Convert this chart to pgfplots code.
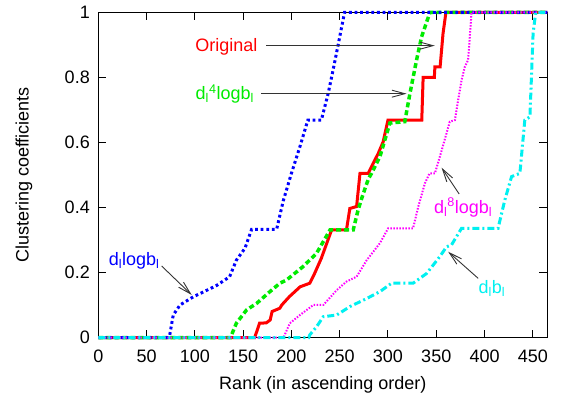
\documentclass[border=0pt]{standalone}
\usepackage{fontspec}
\setmainfont{Liberation Sans}
\usepackage{pgfplots}
\pgfplotsset{compat=1.18}
\usetikzlibrary{arrows.meta}
\definecolor{cR}{RGB}{255,0,0}
\definecolor{cG}{RGB}{0,235,0}
\definecolor{cB}{RGB}{0,0,255}
\definecolor{cM}{RGB}{255,0,255}
\definecolor{cC}{RGB}{0,240,240}
\begin{document}
\begin{tikzpicture}[font=\fontsize{18}{21}\selectfont]
\begin{axis}[
  scale only axis, width=449pt, height=325pt,
  xmin=0, xmax=465, ymin=0, ymax=1,
  xtick={0,50,...,450}, ytick={0,0.2,...,1},
  yticklabels={0,0.2,0.4,0.6,0.8,1},
  /pgf/number format/assume math mode=true,
  tick align=inside, major tick length=8pt,
  axis line style={line width=1.2pt},
  every tick/.style={line width=1pt, black},
  xticklabel style={yshift=-9pt},
  yticklabel style={xshift=-5pt},
  xlabel={Rank (in ascending order)},
  ylabel={Clustering coefficients},
  xlabel style={at={(axis description cs:0.5,-0.1615)}, anchor=base},
  ylabel style={at={(axis description cs:-0.155,0.5)}, anchor=base, rotate=0},
  clip=false,
  every axis plot/.append style={line join=miter, line cap=butt},
]
\coordinate (O) at (rel axis cs:0,0);
% Original
\addplot[cR, line width=3pt] coordinates {
(0,0)(162,0)(167,0.044)(174,0.045)(178,0.054)(180,0.08)(188,0.09)(190,0.1)(198,0.126)(209,0.156)(219,0.167)(224,0.197)(231,0.244)(236,0.285)(241.6,0.331)(257,0.331)(260.5,0.397)(267.5,0.403)(271,0.505)(279.5,0.505)(290,0.567)(295,0.602)(300,0.669)(335,0.669)(336.4,0.8)(348,0.8)(348.6,0.833)(354,0.833)(357,0.935)(360,1)(465,1)};
% d_l^4 log b_l
\addplot[cG, line width=3.5pt, dash pattern=on 5pt off 3pt] coordinates {
(0,0)(137,0)(138,0.008)(143,0.044)(153.6,0.085)(164,0.105)(177.7,0.141)(188,0.167)(195,0.177)(212,0.218)(226,0.259)(240,0.331)(264,0.331)(269,0.392)(273,0.43)(277,0.465)(280,0.49)(283,0.505)(291.6,0.556)(302,0.66)(317.4,0.664)(322.7,0.75)(329.6,0.854)(334.8,0.925)(343.4,1)(465,1)};
% d_l log b_l
\addplot[cB, line width=3pt, dash pattern=on 2.8pt off 2.8pt] coordinates {
(0,0)(72,0)(74,0.008)(77.6,0.069)(84.6,0.1)(98.3,0.125)(108.7,0.14)(122.5,0.16)(136,0.187)(143,0.238)(152,0.275)(158.8,0.333)(184.7,0.333)(191.5,0.42)(200,0.505)(208.8,0.587)(217,0.669)(231,0.669)(238,0.75)(245,0.85)(250,0.925)(255,1)(465,1)};
% d_l^8 log b_l
\addplot[cM, line width=2pt, dash pattern=on 1.5pt off 1.5pt] coordinates {
(0,0)(192,0)(193,0.008)(198.4,0.044)(208.8,0.069)(222.6,0.1)(233,0.1)(247,0.146)(257,0.172)(267.5,0.187)(278,0.238)(291.6,0.29)(300.2,0.336)(326,0.336)(331.3,0.402)(338.2,0.474)(343,0.505)(348.6,0.505)(353.7,0.556)(360.6,0.628)(364,0.664)(369.3,0.669)(372.7,0.731)(376.2,0.792)(379.6,0.833)(383,0.854)(385,0.936)(386.5,1)(465,1)};
% d_l b_l
\addplot[cC, line width=3pt, dash pattern=on 7pt off 3pt on 2pt off 3pt] coordinates {
(0,0)(218,0)(219,0.008)(226,0.033)(233,0.064)(246.8,0.069)(260.5,0.095)(278,0.12)(291.6,0.141)(303.7,0.167)(326,0.167)(340,0.197)(353.7,0.249)(360.6,0.279)(365.8,0.285)(376.2,0.336)(414,0.336)(421,0.423)(428,0.495)(436.6,0.505)(441.7,0.669)(447,0.679)(450.3,0.936)(453,1)(465,1)};
% labels and arrows
\node[cR, anchor=base] at (axis cs:132.7,0.8815) {Original};
\draw[black!80, line width=0.9pt, -{Straight Barb[length=13pt,width=7pt]}] (axis cs:174,0.898) -- (axis cs:348.5,0.898);
\node[cG, anchor=base] at (axis cs:131,0.733) {d\textsubscript{l}\textsuperscript{4}logb\textsubscript{l}};
\draw[black!80, line width=0.9pt, -{Straight Barb[length=13pt,width=7pt]}] (axis cs:169,0.7502) -- (axis cs:319.3,0.7502);
\node[cB, anchor=base] at (axis cs:37.1,0.223) {d\textsubscript{l}logb\textsubscript{l}};
\draw[black!80, line width=0.9pt, -{Straight Barb[length=13pt,width=7pt]}] (axis cs:65.6,0.22) -- (axis cs:96.7,0.131);
\node[cM, anchor=base] at (axis cs:377.9,0.383) {d\textsubscript{l}\textsuperscript{8}logb\textsubscript{l}};
\draw[black!80, line width=0.9pt, -{Straight Barb[length=13pt,width=7pt]}] (axis cs:373.7,0.4415) -- (axis cs:355.5,0.5225);
\node[cC, anchor=base] at (axis cs:407.6,0.136) {d\textsubscript{l}b\textsubscript{l}};
\draw[black!80, line width=0.9pt, -{Straight Barb[length=13pt,width=7pt]}] (axis cs:393.4,0.182) -- (axis cs:362.3,0.264);
\end{axis}
\path (O) ++(-98.3pt,-60.5pt) coordinate (a);
\path (O) ++(462.7pt,337.5pt) coordinate (b);
\path (a) rectangle (b);
\end{tikzpicture}
\end{document}
